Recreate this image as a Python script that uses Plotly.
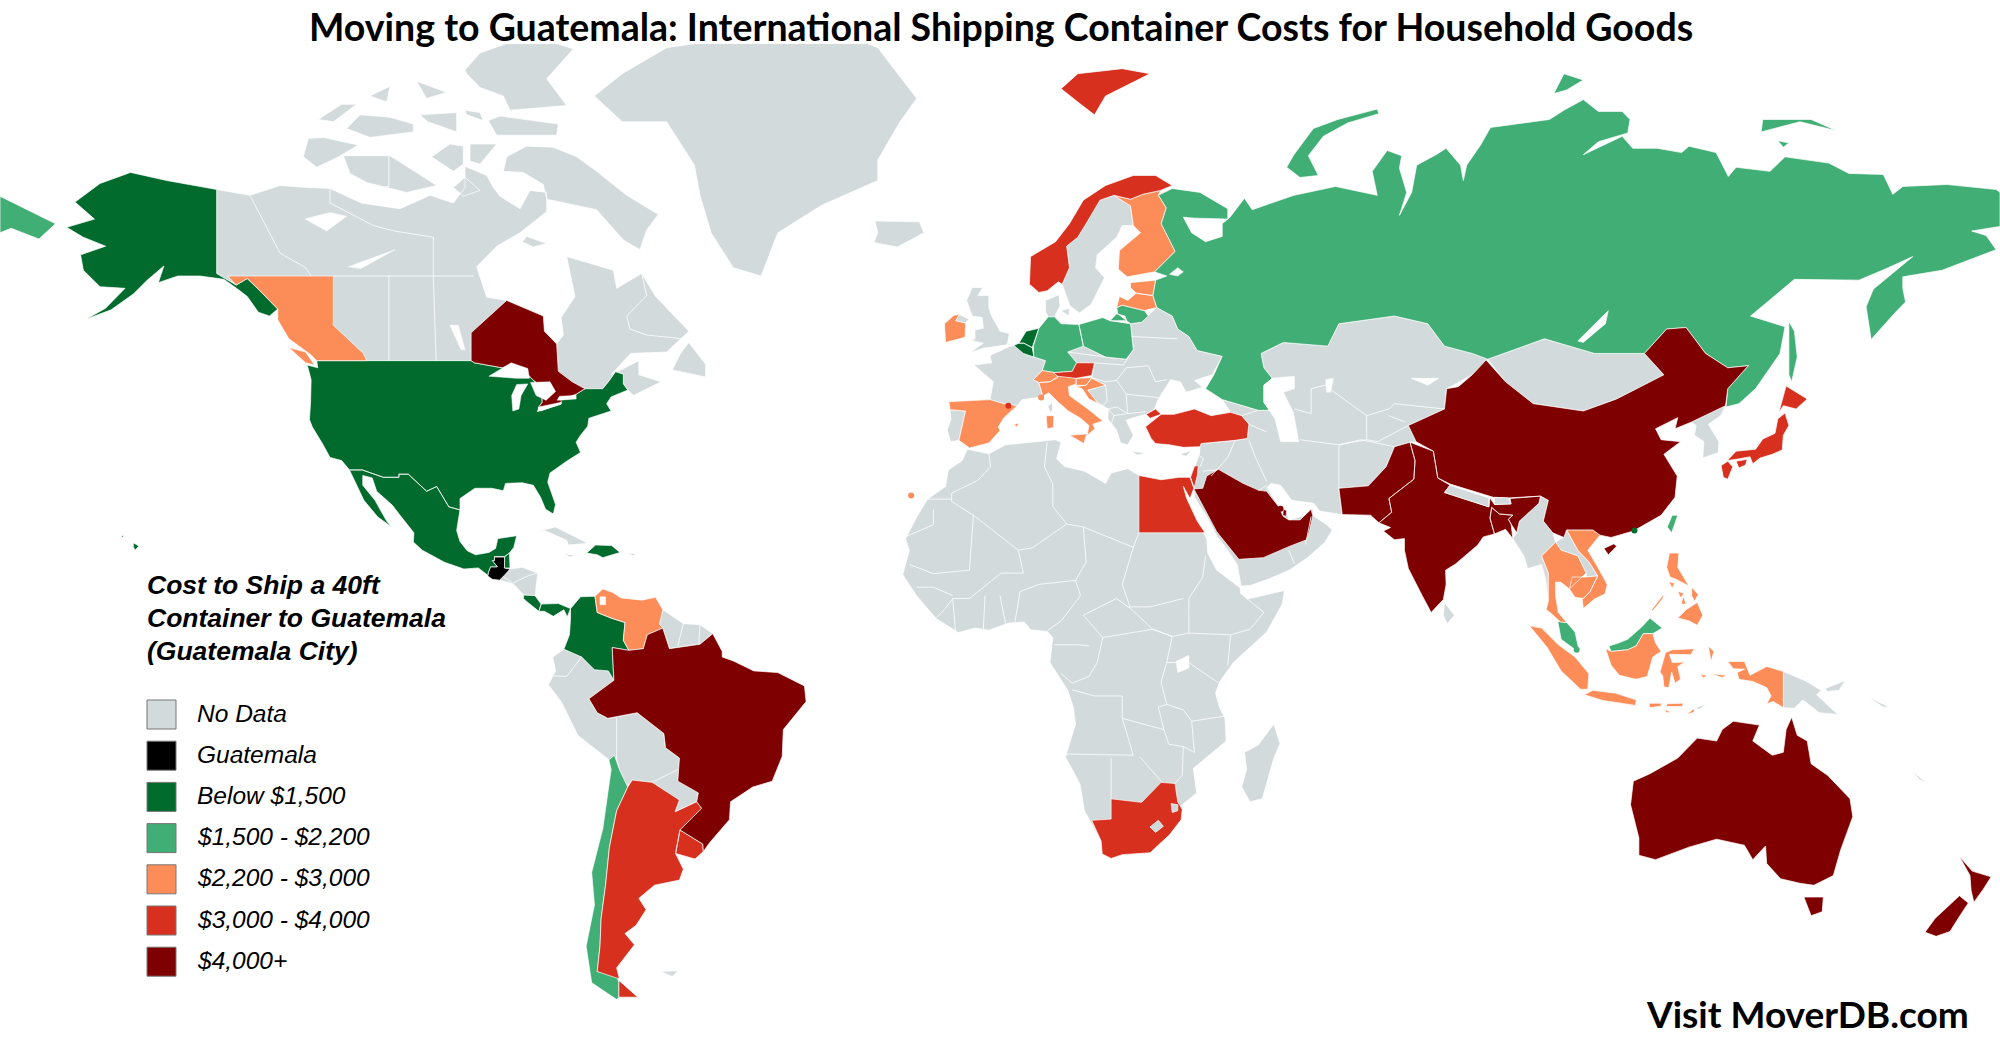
import math
import plotly.graph_objects as go

# Outlines are (lon, lat) in degrees: the world topojson is not reachable offline

# ---- no data ----
greenland = [(-73,78.2),(-68,80),(-60,82),(-32,83.6),(-22,82),(-15,78),(-18,76),(-22,72.5),(-22,70.5),(-32,68),(-40,65),(-43,60),(-48,61),(-52,65),(-54,69),(-55,72),(-60,76),(-68,76)]
canada = [(-141,69.6),(-135,69),(-129.6,70),(-124.8,69.8),(-120.6,69.7),(-115,68.2),(-108,67.6),(-102.6,69),(-98.4,68.2),(-96.3,69.8),(-96.3,71.9),(-92.4,71),(-91.2,69.8),(-90,68.9),(-86.4,67.6),(-84.6,69.5),(-81.6,69.3),(-81.6,67.3),(-86.4,65),(-90.6,63.5),(-94.2,61.1),(-92.4,57.4),(-88.8,57),(-82.2,55),(-82,53),(-79.8,51.3),(-78.6,52.5),(-79,54.8),(-76.5,57.5),(-78,62.3),(-69.6,60.7),(-69,58.5),(-64.5,60.3),(-62,57.5),(-56,53),(-60,50.2),(-66.5,50),(-70,47),(-65,49),(-65,47),(-61,46),(-66,44),(-67,44.8),(-67.8,45.7),(-67.8,47.1),(-69.2,47.45),(-70.3,46.2),(-71.5,45),(-74.7,45),(-76.3,44.2),(-79,43.4),(-79,42.8),(-83.1,42.2),(-82.4,43),(-82.5,45.3),(-84.1,46.3),(-84.8,46.9),(-88.4,48.3),(-89.6,48),(-94.6,48.7),(-95.2,49),(-123,49),(-124,49.8),(-128,52),(-130,54.5),(-130,55.9),(-133.5,58.4),(-135.5,59.7),(-137.5,58.9),(-141,60.3)]
baffin = [(-88.8,72.8),(-85.2,73.8),(-80.4,73.7),(-76.2,72.8),(-72.6,71.4),(-67.2,69),(-61.5,67),(-63.6,65.3),(-64.8,63.1),(-67.8,64.2),(-72.6,67.5),(-81.6,68.6),(-82.2,70.1),(-85.8,71.3),(-89.4,71.4)]
victoria_is = [(-118.2,72.9),(-109.8,72.9),(-108,72.3),(-101.4,70),(-106.8,69.3),(-114,70.3),(-117,71.2)]
banks = [(-124.5,74.5),(-121.8,74.6),(-115.5,73.9),(-119.4,72.7),(-123,71.8),(-125.4,72.8)]
ellesmere = [(-96.3,80.3),(-93.6,81.6),(-88.8,82.3),(-79.8,82.3),(-76.8,81.9),(-81.6,79.6),(-78,77.4),(-88.2,77),(-89.4,78.2),(-93.6,78.9),(-96,80)]
devon = [(-92.1,76.1),(-90,76.5),(-79.5,75.8),(-79.8,74.8),(-90.6,74.8)]
cornwallis = [(-96.3,77),(-93.6,76.8),(-93,76.1),(-96,76.6)]
melville = [(-117.6,75.4),(-115.2,76.6),(-109.8,76.4),(-105.6,75.8),(-105.6,75.1),(-113.4,74.6)]
prince_patrick = [(-122.7,76.2),(-118.5,77.5),(-115.8,77.5),(-120,76)]
bathurst = [(-104.4,76.6),(-97.8,76.8),(-97.8,75.1),(-103,76)]
ellef = [(-113.4,78.2),(-109.8,79),(-110.4,77.7)]
amund = [(-105,79.4),(-99.6,78.5),(-103.2,78)]
prince_of_wales = [(-102.3,72.8),(-99,74),(-96.6,73.8),(-96.6,72.1),(-98.4,71.4)]
somerset = [(-95.4,74),(-90.6,74),(-93.6,72.1),(-95.4,72.4)]
king_william = [(-96.3,70.8),(-93.6,69.5),(-96.6,68.9),(-98.4,69.8)]
southampton = [(-85.2,64.6),(-81.6,63.8),(-84,63.4),(-86,64)]
newfoundland = [(-59,47.7),(-53,46.7),(-53,48.5),(-56,51.5),(-57.5,50)]
iceland = [(-22.5,66.3),(-14.5,66.2),(-13.7,65),(-18.5,63.4),(-22.7,63.9),(-22,65)]
great_britain = [(-5.5,50.1),(-3,50.7),(1.3,51.2),(1.7,52.7),(0,53),(-1.5,55),(-2,56),(-2,57.6),(-4,57.6),(-3.1,58.6),(-5,58.6),(-6,57),(-5,55),(-3.2,54.8),(-3,53.4),(-4.5,53.2),(-4.5,52),(-5.2,51.8),(-3,51.4)]
n_ireland = [(-7.3,55.2),(-5.6,54.6),(-6.3,54.1),(-8,54.4)]
france = [(-1.8,43.4),(-1.2,46),(-4.7,48.4),(-1.5,48.7),(-1.8,49.7),(1.5,50.9),(2.5,51.1),(4.2,50),(6.1,49.5),(8.2,49),(7.6,47.6),(6,46.3),(7,45.9),(7.6,44.2),(7.5,43.8),(4,43.4),(3.1,42.5),(0.7,42.8)]
corsica = [(8.6,42.4),(9.4,43),(9.5,42),(9.1,41.4)]
portugal = [(-9,41.9),(-6.2,41.7),(-7.4,37.2),(-8.9,37),(-9.5,38.8),(-8.8,40.5)]
denmark = [(8.2,55.5),(8.2,57),(10.6,57.7),(10.8,56.3),(9.8,54.9),(8.7,54.9)]
zealand = [(11,55.7),(12.5,56),(12.4,55)]
sweden = [(11.2,59),(12.6,56.3),(14.3,55.4),(16.4,56.5),(18.8,59.8),(17.2,61),(17.5,62.5),(21,64.5),(22,65.8),(24,65.8),(23.5,67.9),(20.5,69),(18,68.5),(15.5,66),(14,64.5),(12,63.5),(12.5,61)]
east_europe = [(12.2,50.2),(15,51),(19,49.5),(22.7,49.2),(24,50.5),(23.5,54),(25.5,54.2),(26.7,55),(28.2,56.1),(31,55),(32,53.3),(34,52.3),(35.5,50.4),(40,49.6),(38.2,47),(35,46.2),(36.5,45.2),(33.5,44.5),(32.5,46),(30.7,46.3),(28.5,43.5),(27.8,42),(26.2,41.2),(23.7,40.6),(22.7,40.3),(24,38),(23,36.5),(21.7,36.8),(21,38.8),(19.4,40.5),(19.5,42),(18.5,42.5),(17.5,43),(15.8,44.8),(19,45.5),(16.5,46.5),(17,48.7),(13.8,48.7)]
crete = [(23.6,35.5),(26.3,35.2),(24.7,34.9)]
cyprus = [(32.3,35),(34.5,35.6),(33.5,34.7)]
middle_east = [(36,36.2),(36.2,36.7),(42.3,37.2),(44.5,37.5),(44.8,39.7),(43.5,41),(41.5,41.5),(40,43.4),(46.5,41.8),(48.5,41.8),(47.5,43),(47.5,45.5),(49,46.5),(47.5,48),(47,50),(51,51.5),(59,51),(61,54),(71,55),(77,54),(80,51),(85,50),(87.8,49.2),(85,47),(80.4,45),(80,42),(73.5,39.5),(74.9,37),(73.8,36.9),(71,36.2),(69.5,33),(66.3,29.9),(61,29.5),(61.6,25.1),(57.5,25.7),(56.5,27),(52.5,27.5),(50.5,30),(48.8,30.3),(48,29.6),(50,26.8),(50.8,24.9),(51.5,25.9),(52,24.2),(55,25),(56.3,26.2),(56.4,24.9),(58.5,23.6),(59.8,22.5),(58.5,20.4),(55.5,17.8),(52.2,15.6),(48.5,14),(45,12.8),(43.4,12.7),(42.7,16.5),(41,19),(39,21.5),(37.2,24.8),(35,28),(34.9,29.5),(34.3,31.3),(35,32.8),(35.9,35)]
mongolia = [(87.8,49.2),(98,52),(107,50),(116,50),(119.5,47),(111,43.5),(105,41.7),(96,42.8),(91,46)]
korea = [(124.4,40),(128,41.5),(130.6,42.5),(129.7,41),(127.5,39.7),(129.4,37),(129.3,35.3),(126.5,34.4),(126.7,37),(125,38),(125.3,39.5)]
myanmar = [(92.3,21),(93,22),(93.5,24),(97,27),(97.3,28.2),(98.7,27.5),(97.8,24),(99.5,22),(100,20.4),(97.5,18),(98.7,15),(98.7,10),(98.2,14),(97.5,16.5),(95,15.8),(94.3,18)]
laos = [(101.5,21.2),(102,22.5),(103,20.7),(104,19),(106,17),(107.6,14.5),(105.5,14.3),(105.5,15),(104,18),(101,19),(100,20.4)]
nepal = [(80,28.8),(81,30),(88,27.9),(88,26.4)]
bhutan = [(89,26.8),(92,26.9),(91.5,27.9),(89,28)]
sri_lanka = [(80,9.8),(81.8,7.5),(80.5,6),(79.8,7.5)]
png = [(141,-2.6),(145,-4.3),(147.8,-6),(147,-6.8),(150.8,-10.3),(147.5,-10),(144.5,-7.7),(143,-9.2),(141,-9.1)]
new_britain = [(148.5,-5.7),(152.2,-4.2),(151,-6),(149,-6.2)]
east_timor = [(125,-9.2),(127.3,-8.4),(125.9,-9.4)]
solomon = [(156,-7),(160,-9),(159,-9)]
new_caledonia = [(164,-20.2),(167,-22.4),(165.5,-21.7)]
africa = [(-5.9,35.8),(-2,35.1),(1,36.5),(5,36.9),(10,37.3),(11,36.9),(10.2,34.3),(11.5,33.1),(15.2,32.3),(19,30.3),(20,32),(23,32.7),(25,31.6),(29,30.9),(32.3,31.3),(32.6,29.9),(33.6,27.8),(35.5,24),(37.2,21),(37.4,18.5),(39,15.5),(43.2,12.4),(43.3,11.5),(44.5,10.4),(51.2,11.9),(50.8,9.5),(48,4.5),(42,-1),(39.5,-4.5),(38.8,-6.5),(39.5,-9),(40.5,-11),(40.7,-15),(36.9,-18),(34.8,-19.8),(35.4,-24),(32.8,-26),(32.6,-28.5),(30.5,-31),(27,-33.9),(22,-34.2),(20,-34.8),(18.4,-34.1),(18.2,-32),(15.2,-27),(14.4,-22.5),(11.8,-17.8),(13.6,-12),(13.2,-9),(12.2,-6),(9,-1),(9.5,3.5),(8.5,4.6),(5.5,4.9),(4.4,6.3),(1.5,6.1),(-2,4.8),(-4.5,5.2),(-7.5,4.4),(-11.5,6.9),(-13.3,9),(-15,11),(-17.5,14.7),(-16.3,19),(-17,21),(-14.8,25),(-13,27.7),(-9.8,29.8),(-9.3,32.5),(-6.8,34)]
madagascar = [(49.3,-12),(50.4,-15.5),(49.3,-18),(47.2,-25),(45,-25.5),(43.5,-23),(44.4,-20),(44,-17),(46.5,-15.7)]
west_south_america = [(-78.5,1.4),(-75.3,0),(-73,-2.3),(-70.5,-2.5),(-69.5,-4.2),(-74,-7.5),(-72.5,-10),(-70.6,-11),(-65.3,-10),(-60.5,-13.7),(-60.2,-16.2),(-57.7,-18),(-58,-22),(-54.3,-24),(-54.6,-25.5),(-58.5,-27.2),(-57.7,-25.2),(-62.6,-22.2),(-66.2,-21.8),(-67.2,-23),(-68.5,-20),(-69,-18),(-70.4,-18.3),(-76,-14),(-79,-8),(-81.3,-5),(-80,-2.5),(-80.5,0)]
guianas = [(-60.7,8.5),(-57,6),(-54,5.8),(-51.7,4.2),(-54,2.3),(-56.5,2),(-59.5,1.5),(-60.7,5.2),(-61.3,5.9)]
falklands = [(-61,-51.5),(-58,-51.4),(-59,-52.2)]
central_america = [(-90.1,13.75),(-89.2,14.6),(-88.2,15.7),(-86,16),(-83.2,15),(-83.7,11),(-85.7,11.1),(-87.5,13),(-88,13.2)]
cuba = [(-84.9,21.9),(-80,23),(-74.2,20.2),(-77.7,19.9),(-78,20.7),(-82,22.4)]
jamaica = [(-78.3,18.4),(-76.2,18),(-77.5,17.8)]
puerto_rico = [(-67.2,18.5),(-65.6,18.4),(-66,18)]

# ---- guatemala ----
guatemala = [(-92.2,14.5),(-92.1,15.1),(-91.7,16.1),(-90.5,16.1),(-91.4,17.2),(-91,17.25),(-91,17.8),(-89.15,17.8),(-89.2,15.9),(-88.2,15.7),(-89.2,14.6),(-90.1,13.75),(-91.4,13.9)]

# ---- below $1,500 ----
alaska = [(-141,69.6),(-141,60.3),(-137.5,58.9),(-135.5,59.7),(-133.5,58.4),(-130,55.9),(-131.5,55),(-133.5,55.5),(-135.5,57.5),(-137,58.3),(-139.7,59.6),(-144,60),(-148,60),(-151.5,59.2),(-150.5,61.2),(-153.5,59.5),(-156,57.8),(-160,55.8),(-164.5,54.6),(-161,56),(-157.5,58.5),(-162,58.7),(-165,60.7),(-165.5,62.5),(-161,63.5),(-165,64.5),(-168,65.6),(-163,66.5),(-166.5,68.3),(-162,70.2),(-156.5,71.3),(-150,70.5)]
usa = [(-123,49),(-95.2,49),(-94.6,48.7),(-89.6,48),(-88.4,48.3),(-84.8,46.9),(-84.1,46.3),(-83.5,45.8),(-82.5,45.3),(-82.4,43),(-83.1,42.2),(-82.7,41.7),(-79,42.8),(-79.1,43.4),(-76.8,43.6),(-76.3,44.2),(-74.7,45),(-71.5,45),(-70.3,46.2),(-69.2,47.45),(-67.8,47.1),(-67.8,45.7),(-67,44.8),(-70,43.8),(-70.8,42.8),(-70,41.7),(-74,40.6),(-74.2,39.4),(-75.5,38),(-76.3,36.9),(-75.5,35.3),(-78,33.9),(-81,32),(-81.4,30.5),(-80,26.8),(-80.4,25.2),(-81.8,26),(-82.7,28),(-84,30),(-86,30.4),(-89,30.3),(-89.4,29.1),(-91.5,29.5),(-94.5,29.5),(-97.2,27.8),(-97.2,25.9),(-99.2,26.4),(-101.4,29.8),(-103.2,29),(-106.5,31.8),(-108.2,31.8),(-108.2,31.3),(-111,31.3),(-114.8,32.5),(-117.1,32.5),(-118.5,34),(-120.6,34.5),(-121.9,36.6),(-123.8,39.3),(-124.3,40.4),(-124.1,43),(-124,46.3),(-124.7,48.4),(-122.8,48)]
hawaii = [(-156,20.3),(-155,19.7),(-155.7,19),(-156,19.6)]
oahu = [(-157.9,21.6),(-158.2,21.3),(-157.7,21.3)]
mexico = [(-117.1,32.5),(-114.8,32.5),(-111,31.3),(-108.2,31.3),(-108.2,31.8),(-106.5,31.8),(-103.2,29),(-101.4,29.8),(-99.2,26.4),(-97.2,25.9),(-97.8,22.4),(-97.2,20.5),(-95.9,18.9),(-94.4,18.2),(-92,18.6),(-90.8,19.3),(-90.4,21),(-87,21.5),(-87.5,19.5),(-88.3,18.5),(-89.15,17.9),(-91,17.9),(-91,17.2),(-91.4,17.2),(-90.5,16.1),(-91.7,16.1),(-92.1,15.1),(-92.2,14.6),(-93.9,15.9),(-96.5,15.7),(-100,16.9),(-104,19),(-105.6,20.4),(-105.5,22),(-108,25),(-109.4,26.7),(-112.2,29),(-113,31.2),(-114.7,31.6),(-114.7,30),(-112.5,27.5),(-110.4,24),(-109.5,23),(-112,24.7),(-114.5,27.5),(-115.8,30)]
belize = [(-89.15,17.9),(-88.3,18.5),(-88.2,15.9),(-89.2,15.9)]
costa_rica = [(-85.7,11.1),(-83.7,11),(-82.6,9.5),(-83,8.2),(-85,9.8),(-85.8,10.5)]
panama = [(-83,8.2),(-82.6,9.5),(-79.5,9.6),(-77.3,8.7),(-77.9,7.2),(-78.5,8.5),(-80.4,7.3),(-82,8.2)]
colombia = [(-77.3,8.7),(-75.5,10.8),(-72.9,10.9),(-71.5,12.2),(-72.9,10.9),(-72.5,8),(-70,7),(-67.5,6.2),(-67.8,3),(-66.8,1.2),(-69.8,1.7),(-69.5,-4.2),(-70.5,-2.5),(-73,-2.3),(-75.3,0),(-78.5,1.4),(-77.5,4),(-77.3,7)]
hispaniola = [(-74.4,18.5),(-72.8,19.9),(-69.9,19.8),(-68.4,18.6),(-71.5,17.7),(-72.5,18.2)]
netherlands = [(3.4,51.4),(4.7,53),(7,53.4),(6,51),(5.8,50.8),(4.3,51.4)]
belgium = [(2.5,51.1),(3.4,51.4),(4.3,51.4),(5.8,50.8),(6.1,49.5),(4.2,50)]

# ---- $1,500 - $2,200 ----
russia = [(31,69.7),(36,69.3),(41,67.6),(41,66.5),(35,66.6),(33,66.7),(34.5,65),(37,64),(40,64.6),(40,66),(41.4,66.7),(44,68.7),(45.4,67.5),(52.9,69),(60.4,69.9),(67.9,69),(67,71.4),(69.7,73.4),(72.3,72.9),(71.9,71.7),(73.2,69.3),(71.9,66.9),(74.1,69.3),(75,72),(78.5,73),(80.3,73.6),(82.9,72),(83.4,70.5),(84,72),(86.5,73.9),(88.3,75.5),(98.9,76.2),(101.5,77),(105,77.9),(107.7,76.9),(112,76.9),(113.4,76.2),(113,75),(107.7,74.2),(105,73),(112,74.7),(113.9,73.6),(118.3,73.6),(122.7,73.2),(124,73.8),(128.9,73.2),(131.1,70.9),(132.5,71.8),(138.6,71.4),(141.3,72.8),(149.2,72.2),(152.8,71.2),(159,71.1),(160.7,69.1),(162.5,69.9),(170.5,70.1),(179.3,69.6),(180,69.3),(180,65.7),(174.9,65.2),(177.5,64.7),(179.3,63.1),(169.6,60.7),(162.5,59.9),(162.5,58.5),(163,56.8),(161.2,55.5),(156.8,51.9),(155.9,56.2),(157.2,58.4),(164.3,62.3),(159.9,61),(154.6,59.5),(143,59.6),(135.1,55),(141.3,53.6),(140.4,50),(136,45),(133,42.8),(130.7,42.3),(131,45),(134.7,48.3),(131,48),(127,50),(123.5,53.5),(120,53.3),(116,50),(107,50),(98,52),(87.8,49.2),(85,50),(80,51),(77,54),(71,55),(61,54),(59,51),(51,51.5),(47,50),(47.5,48),(49,46.5),(47.5,45.5),(47.5,43),(48.5,41.8),(46.5,41.8),(40,43.4),(37,45),(38.5,47),(40,49.6),(35.5,50.4),(34,52.3),(32,53.3),(31,55),(28.2,56.1),(27.5,57.6),(28,59.5),(30,60),(27.8,60.5),(31.5,62.9),(29,66),(29.9,67.7),(28.5,69)]
chukotka = [(-180,68.9),(-175,67.5),(-170,66),(-173,64.3),(-178,65.5),(-180,65)]
novaya_zemlya = [(51.6,71.8),(52.9,73),(56.4,75.4),(60.8,76.2),(67.9,77.1),(68.2,76.7),(62.6,75.9),(58.2,74.7),(55.5,72.9),(57.3,71),(54,70.8)]
severnaya = [(99.7,78.4),(101.5,80),(105,79.5),(102,78.7)]
new_siberian = [(137.3,76.2),(137,75.1),(144,76),(150.6,75.2),(146,76.2)]
lyakhov = [(140,74.3),(142,74.1),(141,73.7)]
sakhalin = [(142,54.3),(143,53),(143.5,49.5),(142.5,46),(142,47),(142,51)]
kaliningrad = [(19.8,54.4),(22.8,54.4),(22.5,55),(21,55.3)]
germany = [(7,53.4),(8.7,54.9),(9.8,54.9),(11,54),(14.2,53.9),(14.6,52.5),(15,51),(12.2,50.2),(13.8,48.7),(13,47.5),(10,47.3),(7.6,47.6),(8.2,49),(6.1,49.5),(6,51)]
poland = [(14.2,53.9),(18.5,54.8),(19.8,54.4),(23.5,54),(24,50.5),(22.7,49.2),(19,49.5),(15,51),(14.6,52.5)]
lithuania = [(21,56.1),(22,56.4),(26,55.7),(26.7,55),(25.5,54.2),(23.5,54),(22.8,54.4),(21.2,55.3)]
chile = [(-69.4,-17.5),(-68.5,-20),(-67,-23),(-69,-27),(-70.3,-33),(-71,-39),(-71.8,-44),(-72,-48),(-72.5,-51.5),(-69,-52),(-68.6,-53),(-68.6,-54.9),(-69,-55.2),(-73.5,-53),(-74.5,-48),(-73,-42),(-73.5,-37),(-71.5,-30),(-70,-20),(-70.4,-18.3)]
west_malaysia = [(100.4,6.4),(102,6.2),(103.5,4.5),(104.2,1.4),(103.3,1.5),(101,3.2)]
east_malaysia = [(109.6,2),(111.3,2.5),(113,3.2),(115.5,5.4),(117,7),(119.2,5.2),(117.5,4.2),(115.8,4.2),(114.5,2),(113,1.3),(110,1)]
taiwan = [(121,25),(122,25),(120.9,22),(120.1,23)]

# ---- $2,200 - $3,000 ----
bc = [(-139,60),(-120,60),(-120,53.8),(-114.6,50),(-114,49),(-123,49),(-124,49.8),(-128,52),(-130,54.5),(-130,55.9),(-133.5,58.4),(-135.5,59.7),(-137.5,58.9)]
vancouver_is = [(-128,50.8),(-125,50.2),(-123.4,48.4),(-125,48.7)]
venezuela = [(-72.9,10.9),(-71.5,12.2),(-69.8,11.6),(-68.2,10.6),(-64.5,10.2),(-62,10.7),(-60.7,8.5),(-61.3,5.9),(-60.7,5.2),(-63.5,4),(-64.2,1.5),(-66.8,1.2),(-67.8,3),(-67.5,6.2),(-70,7),(-72.5,8)]
ireland = [(-6.2,53.9),(-6.3,52.2),(-9.8,51.5),(-10,54),(-8.3,55.1),(-7.3,55.2),(-8,54.4),(-6.3,54.1)]
spain = [(-9.2,43.1),(-1.8,43.4),(0.7,42.8),(3.1,42.5),(0.7,40.7),(-0.3,39.3),(0,38.7),(-2,36.8),(-5.5,36),(-7.4,37.2),(-6.2,41.7),(-9,41.9)]
mallorca = [(2.4,39.6),(3.4,39.9),(3.1,39.3)]
finland = [(21.3,60.8),(22.9,59.9),(27.8,60.5),(31.5,62.9),(29,66),(29.9,67.7),(28.5,69),(28.9,69.5),(25.7,69.1),(23.5,68.6),(20.5,69),(23.5,67.9),(24,65.8),(25.3,65),(21.5,63)]
estonia = [(23.5,59.2),(28,59.5),(27.5,57.6),(24.5,57.9),(23.5,58.6)]
latvia = [(21,56.1),(21.5,57.5),(23,57),(24.5,57.9),(27.5,57.6),(28.2,56.1),(26,55.7),(22,56.4)]
switzerland = [(6,46.3),(7.6,47.6),(10,47.3),(10.4,46.6),(9,46),(7,45.9)]
italy = [(7,45.9),(9,46),(10.4,46.8),(12.3,47),(13.7,46.5),(13.7,45.7),(12.3,45.3),(12.5,44),(16,41.9),(18.5,40.2),(16.7,39.7),(17.1,39),(15.7,38),(16,39.5),(14.5,40.6),(12.3,41.7),(10.5,43),(8.8,44.4),(7.5,43.8),(7.6,44.2)]
sicily = [(12.5,38),(15.6,38.2),(15.1,36.7)]
sardinia = [(8.3,41),(9.7,41),(9.6,39.2),(8.5,39)]
slovenia = [(13.7,46.5),(16.5,46.6),(15.5,45.5),(13.7,45.5)]
croatia = [(13.6,45.3),(15.5,45.5),(16.5,46.5),(19,45.5),(15.8,44.8),(17.5,43),(18.5,42.5),(16,43.5),(14.8,45)]
thailand = [(97.5,18),(100,20.4),(101,19),(104,18),(105.5,15),(102.5,12.2),(100.9,13.4),(100,13.4),(100,11),(100.5,8),(102,6.2),(100.9,6.3),(99,8),(98.3,8.5),(98.7,10),(98.7,15)]
cambodia = [(102.5,12.2),(103,14.3),(105.5,14.3),(107.6,14.5),(106.2,11.7),(105,10.5),(103.5,10.7)]
vietnam = [(102,22.5),(106.7,22.5),(108,21.6),(105.8,19),(107.5,16.2),(109.3,13),(108.9,11.3),(107,10.4),(105,8.7),(104.8,10.3),(105,10.5),(106.2,11.7),(107.6,14.5),(106,17),(104,19),(103,20.7)]
sumatra = [(95.3,5.6),(97.5,5.2),(100.5,2.2),(103.5,0),(106,-3),(105.8,-5.8),(104.5,-5.8),(101,-2.5),(98.5,1.7)]
java = [(105.2,-6.8),(106.7,-6),(110.8,-6.5),(114.5,-7.7),(114.4,-8.7),(108.5,-7.8)]
kalimantan = [(109,1.5),(110,1),(113,1.3),(114.5,2),(115.8,4.2),(117.5,4.2),(118,2.5),(119,1),(117.5,0),(116.5,-3.5),(114.5,-4),(111.5,-3.3),(110,-1.5)]
sulawesi = [(119.8,0.8),(121,1.3),(125,1.5),(124.3,0.4),(120.5,0.5),(121,-1),(123.3,-0.9),(122,-1.7),(122.5,-4),(121.5,-4.7),(120.9,-2.7),(120.4,-5.5),(119.5,-5.4),(119.3,-3.4),(118.8,-2.7)]
sumbawa = [(116.8,-8.3),(119,-8.3),(119,-8.8),(117,-9.1)]
flores = [(120,-8.4),(123,-8.3),(122.8,-8.9),(120,-8.9)]
sumba = [(119.5,-9.4),(120.8,-9.9),(120,-10)]
west_timor = [(123.6,-10.3),(125,-9.2),(124.9,-9.9)]
halmahera = [(127.5,2),(128.5,1),(128,-0.8),(127.7,0.8)]
seram = [(128,-3),(130.8,-3.3),(130,-3.7)]
buru = [(126,-3.1),(127.2,-3.3),(126.7,-3.8)]
papua = [(131,-0.8),(134,-0.8),(135,-3.3),(138,-1.7),(141,-2.6),(141,-9.1),(139.2,-8),(138,-8.4),(138.8,-7),(138,-5.5),(135.5,-4.4),(133,-4),(132.7,-2.8),(134,-2.2),(132,-2.1)]
luzon = [(120.5,18.5),(122.2,18.5),(122,16),(124,12.7),(121.7,13.9),(120.6,14.3),(120,16)]
mindanao = [(122,7),(123.5,8.5),(125.5,9.8),(126.5,7.5),(125.5,5.7),(124,6.5)]
palawan = [(117.3,8.5),(119.5,11.3),(119.3,10.5),(117.5,8.3)]
samar = [(124.5,12.5),(125.7,11.2),(125,10),(124.5,11)]
panay = [(122,11.8),(123.1,11.4),(122.5,10.6)]
negros = [(123,10.9),(123.5,9.5),(122.6,9.5)]
mindoro = [(120.4,13.5),(121.4,13.2),(121,12.3)]

# ---- $3,000 - $4,000 ----
norway = [(5.3,59),(7,58),(8.5,58.2),(10.5,59.3),(11.2,59),(12.5,61),(12,63.5),(14,64.5),(15.5,66),(18,68.5),(20.5,69),(23.5,68.6),(25.7,69.1),(28.9,69.5),(31,70),(28,71),(24,71),(19,70),(15,68.5),(12.5,66),(10,64),(5.5,62.3)]
svalbard = [(11,78.8),(14,80),(22,80.4),(27,80),(19,78.2),(17,76.6),(14,77.7)]
turkey = [(26.2,39.3),(29,41.2),(31.3,41.2),(35,42),(38,41),(41.5,41.5),(43.5,41),(44.8,39.7),(44.5,37.5),(42.3,37.2),(36.2,36.7),(36,36.2),(33,36.1),(30.5,36.5),(28,36.7),(27.2,37.5)]
thrace = [(26.3,41.2),(28,42),(29,41.2),(27,40.6)]
egypt = [(25,31.6),(29,30.9),(32.3,31.3),(34.2,31.3),(34.9,29.5),(34.2,27.8),(33,29.8),(33.6,27.8),(35.5,24),(36.9,22),(25,22),(25,29.5)]
israel = [(34.3,31.3),(35,33.1),(35.7,33.2),(35.5,31.5),(34.95,29.55)]
austria = [(9.6,47.3),(13,47.5),(13.8,48.7),(17,48.7),(16.5,46.9),(13.7,46.5),(10.4,46.8)]
south_africa = [(16.5,-28.6),(20,-28.4),(20,-25),(23,-25.3),(25.5,-25.6),(29,-22.2),(31.5,-22.4),(32,-25.5),(32.8,-26.8),(32.6,-28.5),(30.5,-31),(27,-33.9),(22,-34.2),(20,-34.8),(18.4,-34.1),(18.2,-32)]
argentina = [(-66.2,-21.8),(-62.6,-22.2),(-57.7,-25.2),(-58.5,-27.2),(-54.6,-25.5),(-53.7,-26.6),(-57.6,-30.2),(-58.4,-34),(-57,-36.5),(-57.7,-38.2),(-62.2,-39),(-65,-41),(-63.7,-42.7),(-65.5,-45),(-67.5,-46.2),(-65.8,-47.8),(-69,-51),(-68.5,-52.5),(-72.5,-51.5),(-72,-48),(-71.8,-44),(-71,-39),(-70.3,-33),(-69,-27),(-67,-23)]
fuego = [(-68.6,-52.7),(-65.2,-54.9),(-68.6,-54.9)]
uruguay = [(-57.6,-30.2),(-53.5,-32.5),(-53.4,-33.7),(-54.9,-34.9),(-58.4,-34)]
honshu = [(130.9,34),(132.5,35.5),(136,35.8),(137.3,37.4),(139.5,38.3),(140,40.5),(141.3,41.4),(142,39.5),(141,38),(140.8,35.7),(139,35),(136.8,34.4),(135.5,33.5),(135,34.6),(132.5,34.2)]
hokkaido = [(140.2,41.5),(141.5,45.4),(145.3,43.5),(143.3,42),(141,42.5)]
kyushu = [(129.8,33.2),(131,33.9),(131.9,33),(131,31),(130.2,31.3)]
shikoku = [(132.5,33.9),(134.5,34.2),(134.2,33.3),(133,32.8)]

# ---- $4,000+ ----
ontario = [(-95.2,52.8),(-88.8,57),(-82.2,55),(-82,53),(-79.8,51.3),(-79.5,47.5),(-77,46),(-74.7,45),(-76.3,44.2),(-79,43.4),(-79,42.8),(-83.1,42.2),(-82.4,43),(-82.5,45.3),(-84.1,46.3),(-84.8,46.9),(-88.4,48.3),(-89.6,48),(-94.6,48.7),(-95.2,49)]
brazil = [(-69.5,-4.2),(-69.8,1.7),(-66.8,1.2),(-64.2,1.5),(-63.5,4),(-60.7,5.2),(-59.5,1.5),(-56.5,2),(-54,2.3),(-51.7,4.2),(-50,1),(-50,0),(-48,-0.7),(-44.3,-2.5),(-40,-2.8),(-35.2,-5.2),(-34.9,-8),(-39,-13),(-39.2,-17.7),(-41,-22),(-44.5,-23),(-48.5,-25.5),(-48.7,-28.5),(-52.2,-32.2),(-53.4,-33.7),(-53.5,-32.5),(-57.6,-30.2),(-53.7,-26.6),(-54.6,-25.5),(-54.3,-24),(-58,-22),(-57.7,-18),(-60.2,-16.2),(-60.5,-13.7),(-65.3,-10),(-70.6,-11),(-72.5,-10),(-74,-7.5)]
china = [(73.5,39.5),(80,42),(80.4,45),(82.5,45.3),(85,47),(87.5,49.1),(91,46),(96,42.8),(105,41.7),(111,43.5),(119.5,47),(116,50),(120,53.3),(123.5,53.5),(127,50),(131,48),(134.7,48.3),(131,45),(130.6,42.5),(128,41.5),(124.4,40),(121.5,39),(122,40.7),(118,39),(119,37.3),(122.5,37),(119.5,35),(121.9,31.5),(121.5,28),(119,25),(114,22.3),(110,21.2),(108,21.6),(106.7,22.5),(102,22.5),(101.5,21.2),(99.5,22),(97.8,24),(98.7,27.5),(97.3,28.2),(91.5,27.9),(88.8,28),(81,30.2),(78.8,31.2),(78,35.5),(74.9,37)]
hainan = [(108.7,19.3),(110.5,20.1),(111,19.7),(109.5,18.2)]
india = [(73.8,36.9),(78,35.5),(78.8,31.2),(81,30),(80,28.8),(88,26.4),(88.2,27.9),(89,26.8),(92,26.9),(91.8,27.8),(97.3,28.2),(97,27),(93.5,24),(93,22),(92,23.5),(91.5,24.3),(92.3,25),(89.9,25.2),(88.5,26.3),(88.2,24.5),(89,21.8),(87,21.3),(86,19.9),(82,16.6),(80.2,15.5),(80.3,13),(79.8,10.3),(77.6,8),(76,11),(73.5,15.8),(72.8,19),(72.8,21),(71,20.8),(69,22.3),(70.3,22.9),(68.2,23.7),(70.5,25.5),(70,27.8),(74.5,31),(74.7,34)]
pakistan = [(61,29.5),(66.3,29.9),(69.5,33),(71,36.2),(73.8,36.9),(74.7,34),(74.5,31),(70,27.8),(70.5,25.5),(68.2,23.7),(66.7,25),(61.6,25.1)]
bangladesh = [(88.2,24.5),(88.5,26.3),(89.9,25.2),(92.3,25),(91.5,24.3),(92,23.5),(92.3,21),(91,22.6),(89,21.8)]
saudi_arabia = [(34.9,29.4),(36.5,29.5),(37.2,31.5),(39.3,32.6),(43.8,30.3),(46.5,29.2),(48,29),(50.1,26.5),(51,24.8),(52,24.2),(54,24.2),(56,26),(56.3,24.9),(55.7,22.3),(55.2,20.8),(52.2,19.7),(47.4,17.7),(43,17.4),(39,22.2),(36.9,25.9)]
qatar = [(51,26),(51.6,25.8),(51.5,24.8),(50.9,25)]
australia = [(114,-22),(113.5,-26),(115,-31.5),(115,-34.3),(118,-35),(124,-33),(129,-31.7),(134,-32.7),(135.5,-35),(137.8,-32.8),(138,-35.6),(140.5,-38),(144,-38.7),(146.5,-39),(150,-37.5),(151.3,-33.5),(153.5,-28),(153,-25),(149,-21),(146,-19),(145.3,-15),(143.5,-14),(142.5,-10.8),(141.5,-13),(141,-17),(139,-17.5),(135.5,-15),(136.7,-12.2),(132,-11.5),(130,-13),(129,-15),(125.5,-14.5),(122,-18),(117,-20.7)]
tasmania = [(144.7,-40.8),(148.2,-40.8),(148,-43),(146,-43.6)]
nz_north = [(172.7,-34.5),(175,-36.8),(178.4,-37.7),(177,-39.6),(175.3,-41.6),(174.8,-39.8),(174.6,-37.5)]
nz_south = [(172.7,-40.6),(174.3,-41.7),(172.7,-43.7),(171,-45.9),(168.5,-46.6),(166.5,-46),(168.3,-44),(171,-42)]

# countries sitting inside others, grey again
lesotho = [(27,-29.7),(28.5,-28.6),(29.4,-29.6),(28,-30.6)]
eswatini = [(30.8,-25.8),(32,-26),(32,-27),(31,-27.3)]

# water on top of land
lakes = [
    [(-92,46.8),(-88,48.7),(-85,47.9),(-84.7,46.5),(-87,46.5)],
    [(-87.7,41.7),(-86.6,42),(-86.2,44),(-85,45.7),(-87,45.6),(-87.9,44)],
    [(-84.5,45.9),(-81,46),(-80,44.6),(-81.7,43.3),(-83.5,44)],
    [(-83.3,41.6),(-79,42.7),(-79,43),(-83,42.3)],
    [(-79.7,43.3),(-76.3,43.5),(-76.3,44),(-79.3,43.9)],
    [(-99,53.8),(-97,50.5),(-96.3,50.5),(-97.5,53.8)],
    [(-125.1,66.5),(-120.6,67.2),(-117.6,66.8),(-121.2,65.2)],
    [(-117.3,61.1),(-108.9,63.1),(-113.4,61.5),(-115,60.9)],
    [(30.5,60.2),(32,61),(33,60.5),(32,60)],
    [(49,46.5),(53,46.8),(53,45),(51,44.5),(52.8,41.5),(53.8,37),(50.5,37),(49.5,40.5),(47.5,43),(47.5,45.5)],
    [(58.6,46.3),(60,46.5),(59.5,44.5),(58.8,44.5)],
    [(104,51.7),(109.5,55.7),(109,54),(105,51.5)],
    [(74,46.5),(79,46.5),(77,45.5)],
    [(31.7,-0.8),(34,0.3),(34,-2),(32,-2.8)],
    [(-72,10.8),(-71,10.8),(-71,9.4),(-72,9.4)],
]

# white borders between the grey countries
no_data_borders = [
    [(-120,60),(-94.8,60)], [(-110,60),(-110,49)], [(-102,60),(-101.5,49)],
    [(-135,69),(-129.6,62.7),(-125,61),(-124,60)], [(-120.6,69.7),(-120.6,68.2),(-112.8,65.8),(-109,65.2),(-102,64.5),(-102,60)], [(-110,72.9),(-110,69.9),(-112.5,69.7),(-117,69.9)],
    [(-64.5,60.3),(-63.6,57.6),(-67.2,55),(-66.6,53.3),(-63.6,52.5),(-57,52)],
    [(-2,35.1),(-1.7,33),(-4,30.8),(-8.7,28.7),(-8.7,27.3)], [(-8.7,27.7),(-13,27.7)], [(-8.7,27.3),(-4.8,25),(-5.5,15.5),(-12,14.9),(-16.3,16.5)], [(-12,26),(-12,23.4),(-17,21.3)],
    [(8.5,36.9),(8,33),(9.5,30.2),(9.5,26.5),(12,23.5)], [(-4.8,25),(3.3,19),(5.8,19.4),(12,23.5),(15,23),(24,19.5)], [(15,23),(15.5,16.9),(13.6,13.7)],
    [(3.3,19),(4.2,15),(0.2,15),(-5.5,10.5)], [(3.6,11.7),(7,13),(13.6,13.7)], [(2.7,6.3),(3.6,11.7)], [(13.6,13.7),(14.5,11),(11,6.5),(8.6,4.8)],
    [(24,19.5),(22,13),(23.5,8.7)], [(37,18),(36.5,14.3),(34,10.5),(34,8.5)], [(23.5,8.7),(27.5,5),(31,3.7),(34,4.3),(34,8.5)], [(23.5,9),(27,9),(33,10.5)],
    [(25,22),(24,19.5)], [(43.2,11.5),(47.5,8),(45,5),(41.5,4)], [(34,4.3),(41.5,4),(41,-1.6)], [(34,-1),(39.2,-4.6)], [(31,3.7),(30,-1),(34,-1)],
    [(30,-1),(29,-4.5),(30,-8.5),(28.5,-9),(29.5,-13),(22,-11),(22,-7),(17,-7),(13,-5.9)], [(31,3.7),(27.5,5),(18.5,3.5),(17.5,-1),(16,-3.5),(13,-4.7)], [(15,7.5),(18.5,3.5)], [(15,7.5),(21,10.5),(23.5,8.7)],
    [(34.5,-11.5),(40.5,-10.6)], [(30,-8.5),(33,-9.5),(34.5,-11.5),(35,-17),(33,-16),(30.4,-15.6),(29.5,-13)], [(33,-16),(32.8,-21),(31.5,-22.4)],
    [(11.8,-17.3),(24,-17.5),(22,-11)], [(20,-18),(20,-25)], [(25.2,-17.8),(29,-22)], [(-3,5),(-2.7,11)], [(1,6),(0,11)], [(-8,4.5),(-8.5,10.5),(-5.5,10.5)], [(-11.5,7),(-10,8.5),(-8.5,10.5)], [(-15,12.5),(-12,12.5),(-8.5,11)], [(9.8,2.2),(14,2.2),(16,2)], [(11,-3),(13,-4.7)],
    [(-80.3,-3.4),(-78,-3.5),(-75.3,0)], [(-69,-11),(-69,-18)], [(-62.6,-22.2),(-58,-20)], [(-57,6),(-58,2)], [(-54,5.8),(-54.2,2.3)], [(-87.7,13.2),(-85,14.5),(-83.3,15)], [(-89.4,14.4),(-87.8,13.3)],
    [(12.2,50.2),(19,49.5)], [(17,48.7),(22.2,48.4)], [(16.5,46.6),(19,46),(21,46.2),(22.7,48)], [(22.2,48.4),(24,50.5)], [(23.7,52.3),(32,52)], [(22.7,48),(26.7,48.3),(28,46),(30,46.3)], [(21,46.2),(22.7,44.2),(28.5,43.7)], [(22.7,44.2),(23,41.3),(26.2,41.6)], [(20.5,41),(23,41.3)], [(19.4,42),(21,42.3),(23,41.3)], [(19,45.5),(19.3,43.2),(18.5,42.5)], [(19.5,42),(20.5,41),(20,39.6)],
    [(42.3,37.2),(41,34.5),(39,32.5),(38,31.5)], [(36.5,32.3),(39,32.5)], [(36,33),(36.6,34.3),(36,34.7)], [(44.8,37.2),(46,34.5),(48,30.6)], [(46.5,29.1),(48,30)], [(52,19),(53,16.6)], [(55,20),(56,24.8)],
    [(43.5,41),(46.5,41.8)], [(44.8,39.7),(48,38.5)], [(54,37.3),(61,36.5),(61,29.5)], [(61,36.5),(65,37.3),(71,36.2)], [(53,42),(56,41.3),(56,45),(58.5,45.5),(61,44),(66,41),(70,42),(71,42.8),(80,42)], [(61,36.5),(66,37.3),(68,37),(73.5,39.5)], [(66,37.3),(66,41)], [(70,41),(73,40)],
]

BANDS = [
    ("#D2DADC", [greenland, canada, baffin, victoria_is, banks, ellesmere, devon, cornwallis, melville, prince_patrick, bathurst, ellef, amund, prince_of_wales, somerset, king_william, southampton, newfoundland, iceland, great_britain, n_ireland, france, corsica, portugal, denmark, zealand, sweden, east_europe, crete, cyprus, middle_east, mongolia, korea, myanmar, laos, png, new_britain, east_timor, solomon, new_caledonia, africa, madagascar, west_south_america, guianas, falklands, central_america, cuba, jamaica, puerto_rico]),
    ("#000000", [guatemala]),
    ("#006B2D", [alaska, usa, hawaii, oahu, mexico, belize, costa_rica, panama, colombia, hispaniola, netherlands, belgium]),
    ("#41AE76", [russia, chukotka, novaya_zemlya, severnaya, new_siberian, lyakhov, sakhalin, kaliningrad, germany, poland, lithuania, chile, west_malaysia, east_malaysia, taiwan]),
    ("#FC8D59", [bc, vancouver_is, venezuela, ireland, spain, mallorca, finland, estonia, latvia, switzerland, italy, sicily, sardinia, slovenia, croatia, thailand, cambodia, vietnam, sumatra, java, kalimantan, sulawesi, sumbawa, flores, sumba, west_timor, halmahera, seram, buru, papua, luzon, mindanao, palawan, samar, panay, negros, mindoro]),
    ("#D7301F", [norway, svalbard, turkey, thrace, egypt, israel, austria, south_africa, argentina, fuego, uruguay, honshu, hokkaido, kyushu, shikoku]),
    ("#7F0000", [ontario, brazil, china, hainan, india, pakistan, bangladesh, saudi_arabia, qatar, australia, tasmania, nz_north, nz_south]),
    ("#D2DADC", [nepal, bhutan, sri_lanka, lesotho, eswatini]),
]

# tiny places shown as dots
dot_lons = [103.8, 114.2, 1.5, 7.4, -16, 50.5]
dot_lats = [1.3, 22.4, 42.5, 43.7, 28.3, 26.1]
dot_colors = ["#41AE76", "#006B2D", "#D7301F", "#FC8D59", "#FC8D59", "#7F0000"]

legend_labels = ["No Data", "Guatemala", "Below $1,500", "$1,500 - $2,200", "$2,200 - $3,000", "$3,000 - $4,000", "$4,000+"]
legend_colors = ["#D2DADC", "#000000", "#006B2D", "#41AE76", "#FC8D59", "#D7301F", "#7F0000"]
heading_lines = ["Cost to Ship a 40ft", "Container to Guatemala", "(Guatemala City)"]


def miller(lat):
    return 1.25 * math.log(math.tan(math.pi / 4 + 0.4 * math.radians(lat)))


def flatten(polys, closed=True):
    xs, ys = [], []
    for poly in polys:
        pts = poly + poly[:1] if closed else poly
        xs += [p[0] for p in pts] + [None]
        ys += [miller(p[1]) for p in pts] + [None]
    return xs, ys


fig = go.Figure()
for color, polys in BANDS:
    xs, ys = flatten(polys)
    fig.add_trace(go.Scatter(x=xs, y=ys, mode="lines", fill="toself", fillcolor=color,
                             line=dict(color="white", width=0.7), hoverinfo="skip", showlegend=False))

xs, ys = flatten(no_data_borders, closed=False)
fig.add_trace(go.Scatter(x=xs, y=ys, mode="lines", line=dict(color="white", width=0.8), hoverinfo="skip", showlegend=False))

xs, ys = flatten(lakes)
fig.add_trace(go.Scatter(x=xs, y=ys, mode="lines", fill="toself", fillcolor="white",
                         line=dict(color="white", width=0.5), hoverinfo="skip", showlegend=False))

fig.add_trace(go.Scatter(x=dot_lons, y=[miller(v) for v in dot_lats], mode="markers",
                         marker=dict(color=dot_colors, size=6), hoverinfo="skip", showlegend=False))

W, H = 2000, 1053
PX_PER_RAD = W / (2 * math.pi)
EQUATOR_Y = 657


def px(x):
    return x / W


def py(y):
    return 1 - y / H


annotations = []
annotations.append(dict(text="<b>Moving to Guatemala: International Shipping Container Costs for Household Goods</b>",
                        x=px(1001), y=py(26), xanchor="center", font=dict(family="Lato", size=37.5, color="black")))
annotations.append(dict(text="<b>Visit MoverDB.com</b>", x=px(1807), y=py(1013), xanchor="center",
                        font=dict(family="Lato", size=37, color="black")))
for i, line in enumerate(heading_lines):
    annotations.append(dict(text="<b><i>" + line + "</i></b>", x=px(145), y=py(585 + 33 * i), xanchor="left",
                            font=dict(family="Liberation Sans", size=26.5, color="black")))
shapes = [dict(type="rect", xref="paper", yref="paper", x0=0, x1=1, y0=py(44), y1=1,
               fillcolor="white", line_width=0, layer="above")]
for i, (label, color) in enumerate(zip(legend_labels, legend_colors)):
    top = 700 + 41.2 * i
    shapes.append(dict(type="rect", xref="paper", yref="paper", x0=px(147), x1=px(176), y0=py(top), y1=py(top + 29),
                       fillcolor=color, line=dict(color="#777777", width=1), layer="above"))
    annotations.append(dict(text="<i>" + label + "</i>", x=px(195), y=py(top + 13), xanchor="left",
                            font=dict(family="Liberation Sans", size=24.5, color="black")))
for a in annotations:
    a.update(xref="paper", yref="paper", showarrow=False, yanchor="middle")

fig.update_xaxes(visible=False, range=[-180, 180])
fig.update_yaxes(visible=False, range=[-(H - EQUATOR_Y) / PX_PER_RAD, EQUATOR_Y / PX_PER_RAD])
fig.update_layout(width=W, height=H, margin=dict(l=0, r=0, t=0, b=0), plot_bgcolor="white", paper_bgcolor="white",
                  annotations=annotations, shapes=shapes)
fig.write_html("out.html", config={"displayModeBar": False}, post_script="document.body.style.margin='0';")
